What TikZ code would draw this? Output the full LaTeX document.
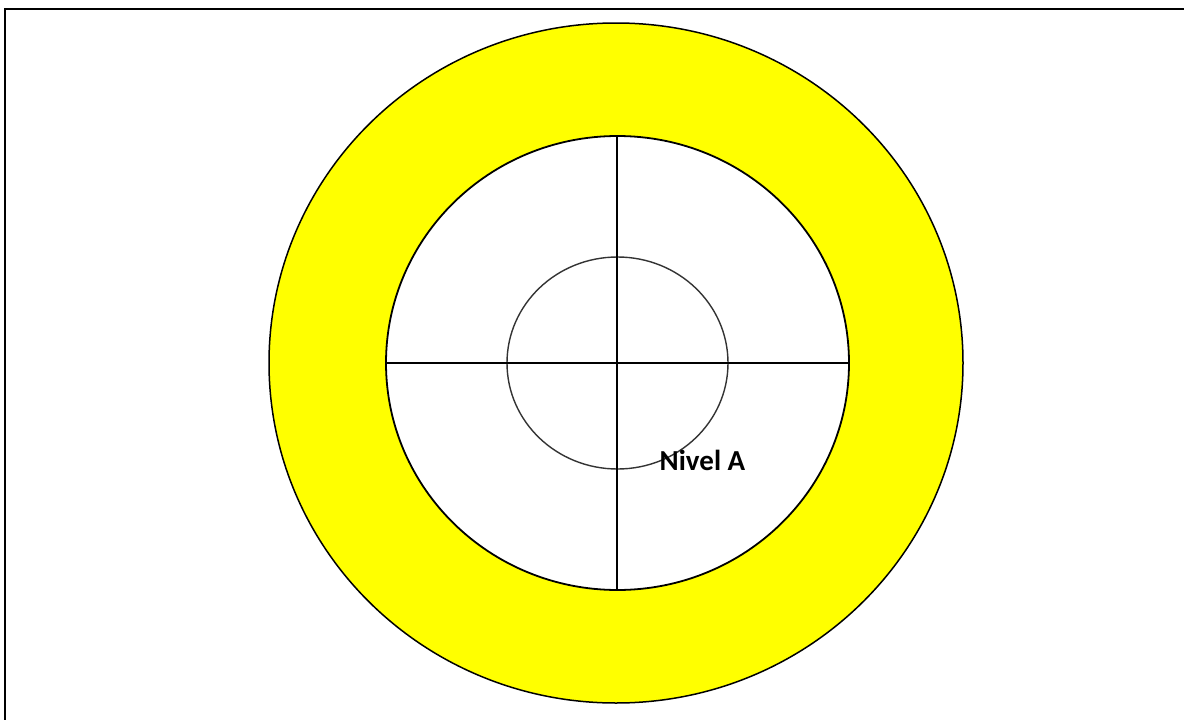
\documentclass[tikz,border=0pt]{standalone}
\usepackage{fontspec}
\setmainfont{Carlito}
\definecolor{ringyellow}{RGB}{255,255,0}
\definecolor{darkline}{RGB}{51,51,51}
\tikzset{
  frame/.style={draw=black, line width=2pt},
  ring/.style={draw=black, line width=1.5pt},
  crossline/.style={draw=black, line width=1.4pt},
  core/.style={draw=darkline, line width=1.4pt},
  lbl/.style={font=\bfseries\fontsize{29}{34}\selectfont, inner sep=0pt}
}
\begin{document}
\begin{tikzpicture}[x=1pt,y=-1pt]
\useasboundingbox (0,0) rectangle (1184,720);
\clip (0,0) rectangle (1184,720);
\fill[white] (0,0) rectangle (1184,720);
\draw[frame] (5,9) rectangle (1200,740);
% outer ring
\coordinate (c) at (616,363);
\filldraw[ring, fill=ringyellow] (c) ellipse [x radius=347, y radius=340];
\filldraw[ring, line width=1.8pt, fill=white] (617.5,363) ellipse [x radius=231.5, y radius=227];
\draw[core] (617.5,363) ellipse [x radius=110.5, y radius=106];
\coordinate (l) at (386,363);
\coordinate (r) at (849,363);
\coordinate (t) at (617,136);
\coordinate (b) at (617,590);
\draw[crossline] (l) -- (r);
\draw[crossline] (t) -- (b);
\node[lbl] (nivel) at (702.5,460) {Nivel A};
\end{tikzpicture}
\end{document}
